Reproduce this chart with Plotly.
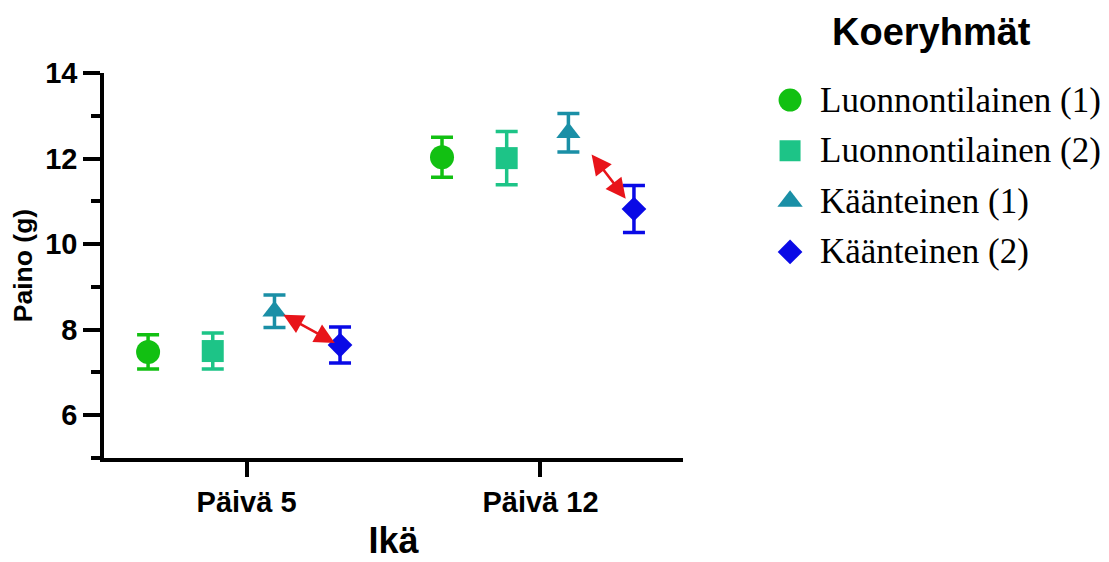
import plotly.graph_objects as go

# ---- data ----
days = ["Päivä 5", "Päivä 12"]
groups = ["Luonnontilainen (1)", "Luonnontilainen (2)", "Käänteinen (1)", "Käänteinen (2)"]
means = {
    "Luonnontilainen (1)": [7.48, 12.03],
    "Luonnontilainen (2)": [7.50, 12.01],
    "Käänteinen (1)": [8.43, 12.60],
    "Käänteinen (2)": [7.64, 10.82],
}
errs = {
    "Luonnontilainen (1)": [0.40, 0.47],
    "Luonnontilainen (2)": [0.42, 0.62],
    "Käänteinen (1)": [0.38, 0.45],
    "Käänteinen (2)": [0.42, 0.55],
}
# double-headed arrows (day index + offset, weight) between groups 3 and 4
arrow_from = [(0.12, 8.37), (1.17, 12.13)]
arrow_to = [(0.30, 7.69), (1.29, 11.06)]

y_ticks = [6, 8, 10, 12, 14]
legend_title = "Koeryhmät"

# ---- style ----
offsets = [-0.335, -0.115, 0.095, 0.318]
colors = ["#12c012", "#1dc487", "#1a8fa6", "#0a0ae6"]
symbols = ["circle", "square", "triangle-up", "diamond"]
sizes = [24, 22, 21, 19]
leg_sizes = [23, 21, 22, 19]

fig = go.Figure()
for i, g in enumerate(groups):
    xs = [d + offsets[i] for d in range(len(days))]
    fig.add_trace(go.Scatter(
        x=xs, y=means[g], mode="markers", name=g, showlegend=False,
        marker=dict(symbol=symbols[i], color=colors[i], size=sizes[i], line=dict(width=0)),
        error_y=dict(type="data", array=errs[g], color=colors[i], thickness=3.5, width=11),
        xaxis="x", yaxis="y",
    ))

# manual legend drawn on a second (hidden) axis pair
for i, g in enumerate(groups):
    fig.add_trace(go.Scatter(
        x=[0.044], y=[i], mode="markers", showlegend=False, hoverinfo="skip",
        marker=dict(symbol=symbols[i], color=colors[i], size=leg_sizes[i], line=dict(width=0)),
        xaxis="x2", yaxis="y2",
    ))
    fig.add_annotation(
        x=0.126, y=i, xref="x2", yref="y2", text=g, showarrow=False,
        xanchor="left", yanchor="middle",
        font=dict(family="Liberation Serif", size=35, color="black"),
    )
fig.add_annotation(
    x=0.8164, y=0.9467, xref="paper", yref="paper", text=f"<b>{legend_title}</b>",
    showarrow=False, xanchor="center", yanchor="middle",
    font=dict(family="Arial", size=38, color="black"),
)

for (x0, y0), (x1, y1) in zip(arrow_from, arrow_to):
    fig.add_annotation(
        x=x1, y=y1, ax=x0, ay=y0, xref="x", yref="y", axref="x", ayref="y",
        showarrow=True, arrowhead=2, startarrowhead=2, arrowside="end+start",
        arrowsize=1.6, startarrowsize=1.6, arrowwidth=2.5, arrowcolor="#e8141a", text="",
    )

axis_font = dict(family="Arial", size=29, color="black")
fig.update_layout(
    width=1109, height=562,
    margin=dict(l=96, r=0, t=0, b=112, autoexpand=False),
    paper_bgcolor="white", plot_bgcolor="white",
    showlegend=False,
    xaxis=dict(
        domain=[0, 0.5716],
        range=[-0.485, 1.485], tickvals=list(range(len(days))), ticktext=[f"<b>{d}</b>" for d in days],
        showline=True, linecolor="black", linewidth=3.5, showgrid=False, zeroline=False,
        ticks="outside", ticklen=15, tickwidth=3.5, tickcolor="black",
        tickfont=axis_font,
        title=dict(text="<b>Ikä</b>", font=dict(family="Arial", size=36, color="black"), standoff=12),
    ),
    yaxis=dict(
        domain=[0, 0.8556],
        range=[5, 14], tickvals=y_ticks, ticktext=[f"<b>{t}</b>" for t in y_ticks],
        showline=True, linecolor="black", linewidth=3.5, showgrid=False, zeroline=False,
        ticks="outside", ticklen=17, tickwidth=3.5, tickcolor="black",
        minor=dict(dtick=1, tick0=5, ticks="outside", ticklen=9, tickwidth=3.5, tickcolor="black"),
        tickfont=axis_font,
        title=dict(text="<b>Paino (g)</b>", font=dict(family="Arial", size=26.5, color="black"), standoff=8),
    ),
    xaxis2=dict(domain=[0.6624, 1], range=[0, 1], visible=False, fixedrange=True),
    yaxis2=dict(domain=[0.4016, 0.8518], range=[3.5, -0.5], visible=False, fixedrange=True),
)

fig.write_html("out.html")
